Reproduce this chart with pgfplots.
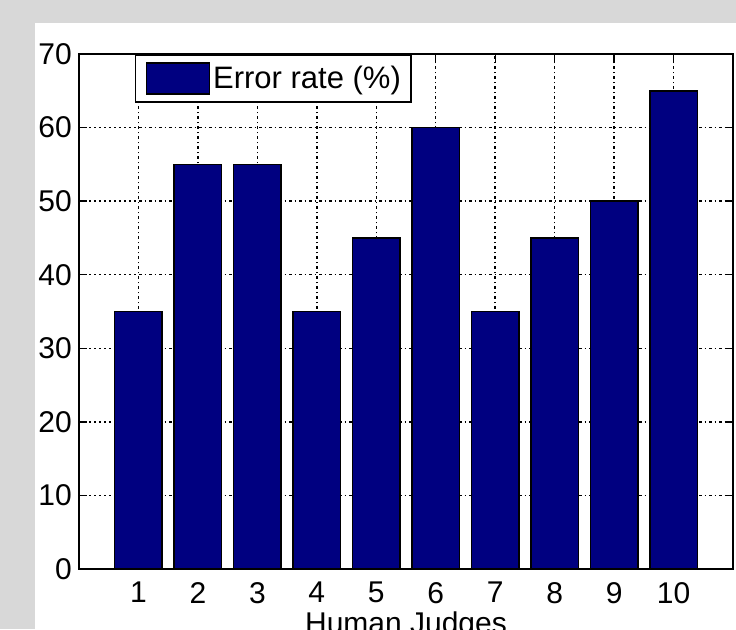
\documentclass[border=0pt]{standalone}
\usepackage{fontspec}
\setmainfont{Liberation Sans}
\usepackage{pgfplots}
\pgfplotsset{compat=1.18}
\definecolor{bgray}{RGB}{216,216,216}
\definecolor{navybar}{RGB}{0,0,128}
\begin{document}
\begin{tikzpicture}
\fill[bgray] (-79pt,-60pt) rectangle (657pt,569pt);
\fill[white] (-44pt,-60pt) rectangle (657pt,546pt);
\begin{axis}[
  scale only axis, width=654pt, height=515pt,
  xmin=0, xmax=11, ymin=0, ymax=70,
  xtick={1,...,10}, ytick={0,10,...,70},
  ybar, bar width=0.8,
  grid=major,
  grid style={black, line width=1.4pt, dash pattern=on 2.5pt off 3pt on 1.5pt off 3pt},
  tick align=inside, major tick length=8pt,
  tick style={black, line width=1.3pt},
  axis line style={line width=1.5pt},
  /pgf/number format/assume math mode=true,
  ticklabel style={font=\fontsize{30}{36}\selectfont},
  xticklabel style={inner sep=0pt, anchor=north, yshift=-13pt},
  yticklabel style={inner sep=0pt, anchor=east, xshift=-7pt},
  xlabel={Human Judges},
  xlabel style={font=\fontsize{30}{36}\selectfont, inner sep=0pt, anchor=north,
    at={(axis description cs:0.5,0)}, yshift=-43pt},
  legend style={at={(0.0856,1)}, anchor=north west, draw=black, line width=1.5pt,
    font=\fontsize{31}{37}\selectfont, nodes={inner sep=0pt},
    inner xsep=10pt, inner ysep=7.5pt},
]
\addplot[fill=navybar, draw=black, line width=1.5pt,
  legend image code/.code={
    \draw[fill=navybar, draw=black, line width=1.3pt] (0pt,-15.5pt) rectangle (63pt,15.5pt);
    \path (66pt,0pt);}]
  coordinates {(1,35) (2,55) (3,55) (4,35) (5,45) (6,60) (7,35) (8,45) (9,50) (10,65)};
\legend{Error rate (\%)}
\end{axis}
\pgfresetboundingbox
\useasboundingbox (-79pt,-60pt) rectangle (657pt,569pt);
\end{tikzpicture}
\end{document}
